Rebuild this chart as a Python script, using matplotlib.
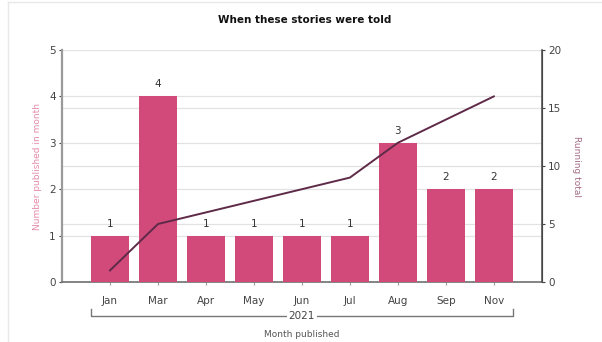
import matplotlib
matplotlib.use("Agg")
import matplotlib.pyplot as plt
from matplotlib.lines import Line2D
from matplotlib.transforms import blended_transform_factory

months = ["Jan", "Mar", "Apr", "May", "Jun", "Jul", "Aug", "Sep", "Nov"]
counts = [1, 4, 1, 1, 1, 1, 3, 2, 2]
running_total = [1, 5, 6, 7, 8, 9, 12, 14, 16]
year_label = "2021"

BAR = "#d14a7a"
LINE = "#5e2a48"
GRID = "#e2e2e2"

plt.rcParams["font.family"] = ["DejaVu Sans"]
plt.rcParams["font.size"] = 7

fig = plt.figure(figsize=(6.02, 3.42), dpi=100)
ax = fig.add_axes([0.103, 0.1754, 0.797, 0.6784])
ax2 = ax.twinx()

x = list(range(len(months)))
ax.bar(x, counts, width=0.8, color=BAR, zorder=3)
for xi, c in zip(x, counts):
    ax.annotate(str(c), (xi, c), xytext=(0, 5), textcoords="offset points",
                ha="center", va="bottom", fontsize=7.5, color="#333333")

ax.set_xlim(-1, len(months))
ax.set_ylim(0, 5)
ax.set_yticks(range(0, 6))
ax.set_xticks(x)
ax.set_xticklabels(months, fontsize=7.5, color="#444444")
ax.yaxis.grid(True, color=GRID, lw=0.9, zorder=0)
ax.set_axisbelow(True)

ax2.set_ylim(0, 20)
ax2.set_yticks(range(0, 21, 5))
# right-axis gridlines drawn on the bar axes so they sit under the bars
tr = blended_transform_factory(ax.transAxes, ax2.transData)
for v in range(5, 20, 5):
    ax.add_line(Line2D([0, 1], [v, v], transform=tr, color=GRID, lw=0.9, zorder=1))

ax2.plot(x, running_total, color=LINE, lw=1.4, zorder=4)

for a in (ax, ax2):
    a.spines["top"].set_visible(False)
    a.tick_params(labelsize=7.5, colors="#444444", length=2.5, width=0.8, pad=2)
ax.spines["left"].set_color("#9a9a9a")
ax.spines["left"].set_linewidth(1.6)
ax.spines["bottom"].set_color("#707070")
ax.spines["bottom"].set_linewidth(1.2)
ax2.spines["left"].set_visible(False)
ax2.spines["bottom"].set_visible(False)
ax2.spines["right"].set_color("#555555")
ax2.spines["right"].set_linewidth(1.2)
ax.tick_params(axis="x", length=2, color="#999999", pad=8)

ax.set_ylabel("Number published in month", color="#e58aaa", fontsize=6.5, labelpad=5)
ax2.set_ylabel("Running total", color="#a26c84", fontsize=6.5, rotation=270, labelpad=14)

# year bracket under the month labels
bt = blended_transform_factory(ax.transData, ax.transAxes)
y0, y1 = -0.147, -0.118
x0, x1 = -0.4, len(months) - 1 + 0.4
ax.add_line(Line2D([x0, x0, x1, x1], [y1, y0, y0, y1], transform=bt,
                   color="#777777", lw=1.0, clip_on=False))
ax.text((x0 + x1) / 2, y0, year_label, transform=bt, ha="center", va="center",
        fontsize=7.5, color="#444444", clip_on=False,
        bbox=dict(boxstyle="square,pad=0.2", fc="white", ec="none"))
ax.text((x0 + x1) / 2, -0.225, "Month published", transform=bt, ha="center",
        va="center", fontsize=6.5, color="#555555", clip_on=False)

fig.text(0.506, 0.9415, "When these stories were told", ha="center", va="center",
         fontsize=7.5, fontweight="bold", color="#111111")

# faint frame edges of the original screenshot
fig.add_artist(Line2D([0.014, 0.014], [0, 0.995], transform=fig.transFigure,
                      color="#e8e8e8", lw=1.0))
fig.add_artist(Line2D([0.014, 1], [0.993, 0.993], transform=fig.transFigure,
                      color="#e8e8e8", lw=1.0))

fig.savefig("out.png", dpi=100)
